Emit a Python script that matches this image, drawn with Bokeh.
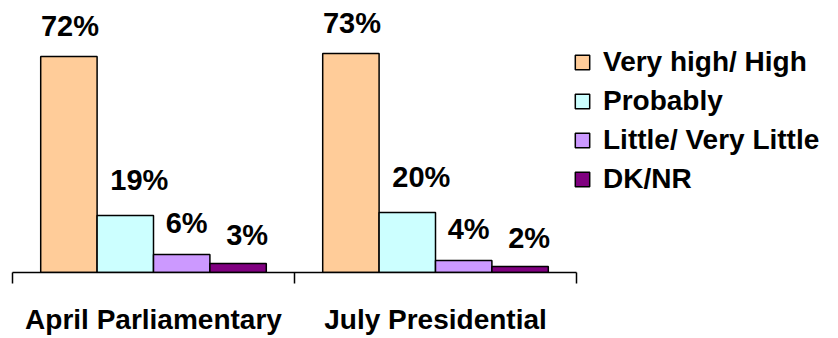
from bokeh.plotting import figure
from bokeh.models import (Range1d, FixedTicker, LinearAxis, ColumnDataSource,
                          LabelSet, Legend, LegendItem)
from bokeh.core.properties import value
from bokeh.transform import dodge
from bokeh.embed import file_html
from bokeh.resources import INLINE

# ---- data ----
groups = ["April Parliamentary", "July Presidential"]
series = ["Very high/ High", "Probably", "Little/ Very Little", "DK/NR"]
very_high = [72, 73]
probably = [19, 20]
little = [6, 4]
dk_nr = [3, 2]
values = [very_high, probably, little, dk_nr]
colors = ["#FFCC99", "#CCFFFF", "#CC99FF", "#800080"]

# ---- styling parameters ----
FONT = "Liberation Sans"
bar_w = 0.2
offsets = [-0.3, -0.1, 0.1, 0.3]
label_dx = [1, 14, 5, 9]
label_dy = [21, 26, 22, 19]
W, H = 838, 338
left, axis_right, axis_y = 12, 576, 272

pos = [i + 0.5 for i in range(len(groups))]
n = len(groups)
x_end = n * (W - left) / (axis_right - left)

p = figure(width=W, height=H, output_backend="svg", toolbar_location=None,
           x_range=Range1d(0, x_end), y_range=Range1d(0, axis_y / 3.0),
           x_axis_location=None, y_axis_location=None,
           min_border_left=left, min_border_right=0,
           min_border_top=0, min_border_bottom=H - axis_y)
p.outline_line_color = None
p.xgrid.visible = False
p.ygrid.visible = False
p.background_fill_color = "white"
p.border_fill_color = "white"

items = []
for j, name in enumerate(series):
    src = ColumnDataSource(dict(x=pos, y=values[j],
                                txt=[f"{v}%" for v in values[j]]))
    r = p.vbar(x=dodge("x", offsets[j], range=p.x_range), top="y", width=bar_w,
               bottom=0, source=src, fill_color=colors[j],
               line_color="black", line_width=1.5)
    items.append(LegendItem(label=name, renderers=[r]))
    lbl = LabelSet(x=dodge("x", offsets[j], range=p.x_range), y="y", text="txt",
                   source=src, x_offset=label_dx[j], y_offset=label_dy[j],
                   text_align="center", text_baseline="alphabetic",
                   text_font=value(FONT), text_font_style="bold",
                   text_font_size=value("29px"), text_color="black")
    p.add_layout(lbl)

xaxis = LinearAxis(ticker=FixedTicker(ticks=pos, minor_ticks=list(range(n + 1))),
                   bounds=(0, n))
xaxis.major_label_overrides = {pos[i]: g for i, g in enumerate(groups)}
xaxis.major_tick_line_color = None
xaxis.major_tick_out = 0
xaxis.major_tick_in = 0
xaxis.minor_tick_out = 11
xaxis.minor_tick_in = 0
xaxis.minor_tick_line_color = "black"
xaxis.minor_tick_line_width = 1.5
xaxis.axis_line_color = "black"
xaxis.axis_line_width = 1.5
xaxis.major_label_standoff = 20
xaxis.major_label_text_font = FONT
xaxis.major_label_text_font_style = "bold"
xaxis.major_label_text_font_size = "28px"
xaxis.major_label_text_color = "black"
p.add_layout(xaxis, "below")

legend = Legend(items=items, location=(561, 73.5))
legend.glyph_width = 18
legend.glyph_height = 18
legend.label_standoff = 12
legend.spacing = 0
legend.label_height = 39
legend.padding = 0
legend.margin = 0
legend.border_line_color = None
legend.background_fill_alpha = 0
legend.label_text_font = FONT
legend.label_text_font_style = "bold"
legend.label_text_font_size = "28px"
legend.label_text_color = "black"
p.add_layout(legend)

open("out.html", "w").write(file_html(p, INLINE))
